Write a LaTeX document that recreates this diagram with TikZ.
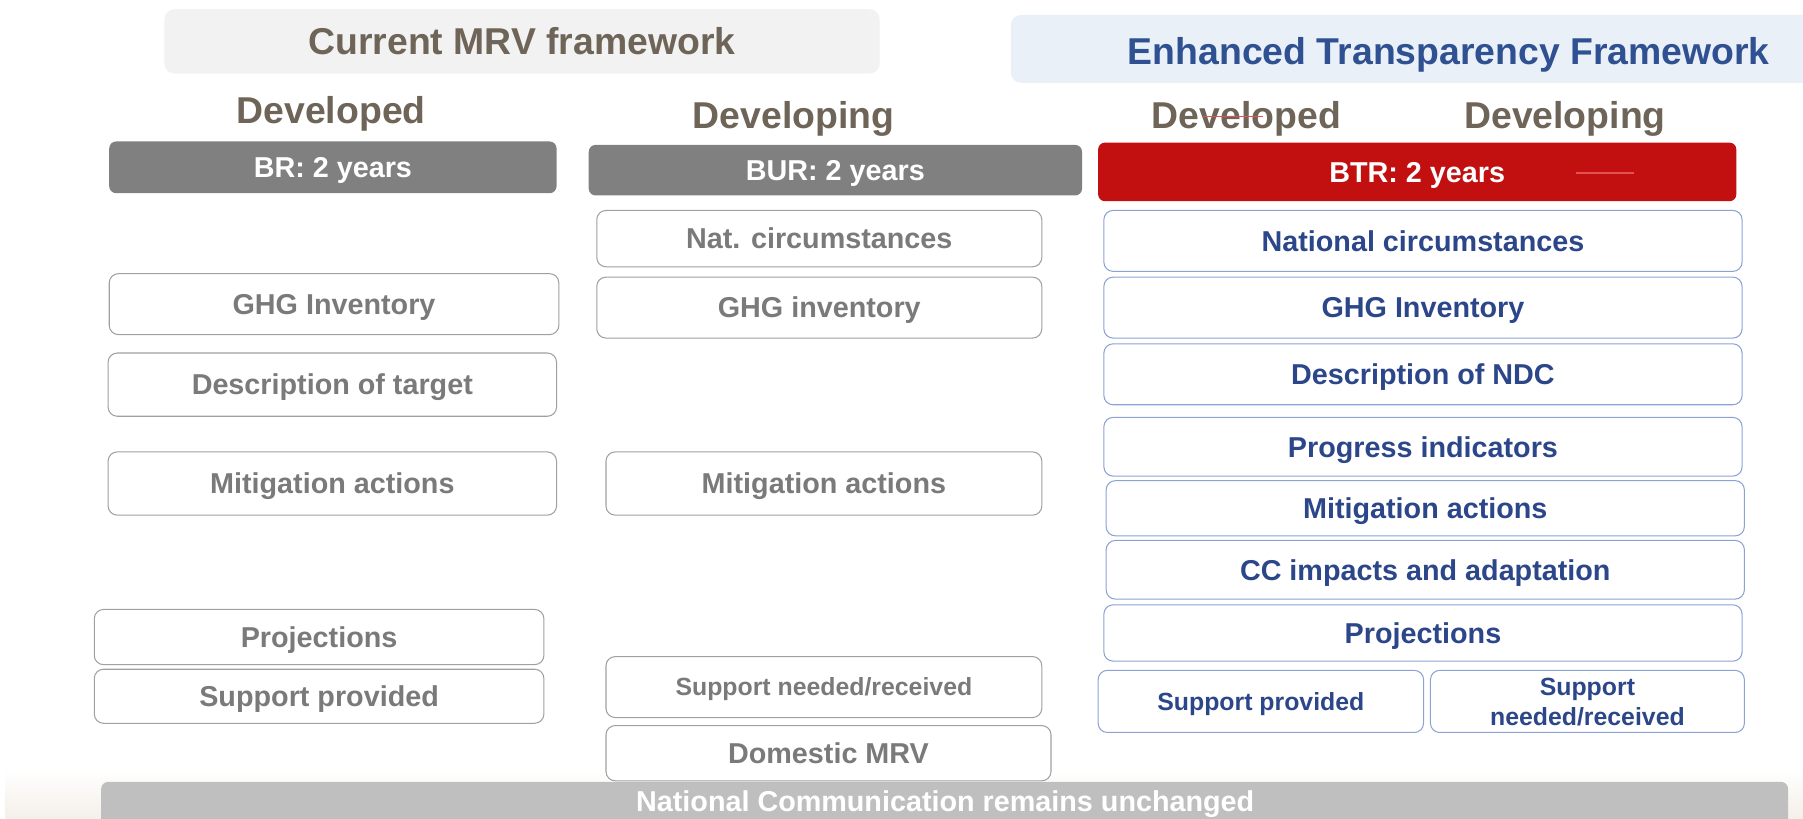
\documentclass[tikz,border=0pt]{standalone}
\usepackage{fontspec}
\setmainfont{Liberation Sans}
\definecolor{headtxt}{RGB}{110,100,88}
\definecolor{etftxt}{RGB}{47,80,145}
\definecolor{graytxt}{RGB}{122,122,122}
\definecolor{bluetxt}{RGB}{44,70,138}
\definecolor{grayline}{RGB}{160,160,160}
\definecolor{blueline}{RGB}{140,162,212}
\definecolor{barGray}{RGB}{128,128,128}
\definecolor{barRed}{RGB}{194,15,15}
\definecolor{ncGray}{RGB}{191,191,191}
\definecolor{titleGray}{RGB}{242,242,242}
\definecolor{titleBlue}{RGB}{234,240,248}
\definecolor{strikeRed}{RGB}{226,82,82}
\definecolor{shadeBeige}{RGB}{244,239,233}
\newcommand\fsmain{\fontsize{25}{30}\selectfont}
\newcommand\fsbig{\fontsize{32.5}{38}\selectfont}
\newcommand\fssmall{\fontsize{21.6}{26}\selectfont}
\begin{document}
\begin{tikzpicture}[x=1pt,y=-1pt,
  every node/.style={inner sep=0pt,outer sep=0pt},
  headtext/.style={font=\bfseries\fsbig,text height=23.3pt,text depth=0pt},
  bar/.style={rounded corners=6pt,text=white,font=\bfseries\fsmain,text height=17.9pt,text depth=0pt},
  gbox/.style={draw=grayline,line width=0.9pt,rounded corners=8pt,fill=white,text=graytxt,font=\bfseries\fsmain,text height=17.9pt,text depth=0pt},
  bbox/.style={draw=blueline,line width=0.9pt,rounded corners=8pt,fill=white,text=bluetxt,font=\bfseries\fsmain,text height=17.9pt,text depth=0pt},
  smalltxt/.style={font=\bfseries\fssmall,text height=15.5pt,text depth=0pt},
  sz/.style n args={2}{minimum width=#1pt,minimum height=#2pt}
]
\useasboundingbox (0,0) rectangle (1568,712);
\clip (0,0) rectangle (1568,712);
\fill[white] (0,0) rectangle (1568,712);
\shade[top color=white,bottom color=shadeBeige] (5,670) rectangle (1568,712);

% title boxes
\node[fill=titleGray,rounded corners=9pt,sz={622}{56},text=headtxt,font=\bfseries\fsbig,text height=23.3pt,text depth=0pt] (tcur) at (454,36) {Current MRV framework};
\node[fill=titleBlue,rounded corners=9pt,sz={720}{59}] (tetf) at (1239,42.5) {};
\node[text=etftxt,font=\bfseries\fsbig,text height=23.3pt,text depth=0pt] (tetft) at (1260,44.5) {Enhanced Transparency Framework};

% column headings
\node[headtext,text=headtxt] (hd1) at (288,96) {Developed};
\node[headtext,text=headtxt] (hd2) at (690,100) {Developing};
\node[headtext,text=headtxt] (hd3) at (1084,100) {Developed};
\node[headtext,text=headtxt] (hd4) at (1361,100) {Developing};
\coordinate (s1) at (1046,101.5);
\coordinate (s2) at (1098,101.5);
\draw[strikeRed,line width=1.2pt] (s1) -- (s2);

% period bars
\node[bar,fill=barGray,sz={389}{45}] (br) at (289.5,145.5) {BR: 2 years};
\node[bar,fill=barGray,sz={429}{44}] (bur) at (726.5,148) {BUR: 2 years};
\node[bar,fill=barRed,sz={555}{51}] (btr) at (1232.5,149.5) {BTR: 2 years};
\coordinate (b1) at (1371,150.5);
\coordinate (b2) at (1421,150.5);
\draw[strikeRed,line width=1.5pt] (b1) -- (b2);

% developed (current)
\node[gbox,sz={391}{53}] (l1) at (290.5,264.5) {GHG Inventory};
\node[gbox,sz={390}{55}] (l2) at (289,334.5) {Description of target};
\node[gbox,sz={390}{55}] (l3) at (289,420.5) {Mitigation actions};
\node[gbox,sz={391}{48}] (l4) at (277.5,554) {Projections};
\node[gbox,sz={391}{47}] (l5) at (277.5,605.5) {Support provided};

% developing (current)
\node[gbox,sz={387}{49}] (m1) at (712.5,207.5) {Nat. circumstances};
\node[gbox,sz={387}{53}] (m2) at (712.5,267.5) {GHG inventory};
\node[gbox,sz={379}{55}] (m3) at (716.5,420.5) {Mitigation actions};
\node[gbox,smalltxt,sz={379}{53}] (m4) at (716.5,597.5) {Support needed/received};
\node[gbox,sz={387}{48}] (m5) at (720.5,655) {Domestic MRV};

% ETF
\node[bbox,sz={555}{53}] (r1) at (1237.5,209.5) {National circumstances};
\node[bbox,sz={555}{53}] (r2) at (1237.5,267.5) {GHG Inventory};
\node[bbox,sz={555}{53}] (r3) at (1237.5,325.5) {Description of NDC};
\node[bbox,sz={555}{51}] (r4) at (1237.5,388.5) {Progress indicators};
\node[bbox,sz={555}{48}] (r5) at (1239.5,442) {Mitigation actions};
\node[bbox,sz={555}{51}] (r6) at (1239.5,495.5) {CC impacts and adaptation};
\node[bbox,sz={555}{49}] (r7) at (1237.5,550.5) {Projections};
\node[bbox,smalltxt,sz={283}{54}] (r8) at (1096.5,610) {Support provided};
\node[bbox,sz={273}{54}] (r9) at (1380.5,610) {};
\node[text=bluetxt,font=\bfseries\fssmall,align=center] (r9t) at (1380.5,610.5) {Support\\needed/received};

% bottom bar
\node[fill=ncGray,rounded corners=6pt,sz={1467}{44}] (nc) at (821.5,702) {};
\node[text=white,font=\bfseries\fsmain,text height=17.9pt,text depth=0pt] (nct) at (822,697) {National Communication remains unchanged};
\end{tikzpicture}
\end{document}
